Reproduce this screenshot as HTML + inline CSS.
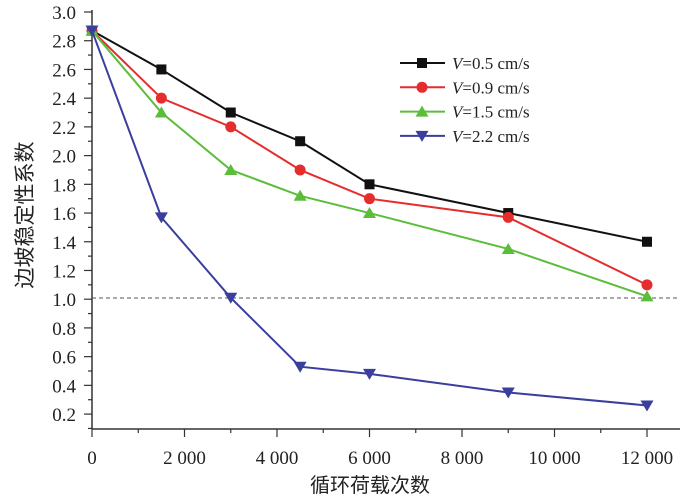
<!DOCTYPE html><html><head><style>body{margin:0;background:#fff}</style></head><body>
<svg width="700" height="499" xmlns="http://www.w3.org/2000/svg" font-family="'Liberation Serif','Noto Serif CJK SC',serif">
<g id="ax" stroke="#333" stroke-width="1.5">
<line x1="92" y1="10" x2="92" y2="429"/><line x1="92" y1="429" x2="680" y2="429"/>
</g>
<g stroke="#333" stroke-width="1.2" id="t"></g>
<g font-size="19" fill="#222" text-anchor="end" id="yl"></g>
<g font-size="19" fill="#222" text-anchor="middle" id="xl"></g>
<line x1="92" y1="298" x2="680" y2="298" stroke="#555" stroke-dasharray="4,3" stroke-width="1"/>
<g id="s"></g>
<text x="370" y="492" font-size="20" text-anchor="middle" font-family="'Liberation Sans','Noto Sans CJK SC',sans-serif" fill="#222">循环荷载次数</text>
<text transform="translate(32,215) rotate(-90)" font-size="21" text-anchor="middle" font-family="'Liberation Sans','Noto Sans CJK SC',sans-serif" fill="#222">边坡稳定性系数</text>
<g font-size="17" fill="#222" id="lg"></g>
</svg>
<script>
const ns="http://www.w3.org/2000/svg";
function el(p,n,a,t){const e=document.createElementNS(ns,n);for(const k in a)e.setAttribute(k,a[k]);if(t!=null)e.textContent=t;document.getElementById(p).appendChild(e);return e;}
const X=v=>92+v*0.04625, Y=v=>12+(3-v)*143.6;
for(let i=1;i<=30;i++){const v=i/10,y=Y(v);el('t','line',{x1:i%2==0?84:88,x2:92,y1:y,y2:y});if(i%2==0)el('yl','text',{x:76,y:y+7},v.toFixed(1));}
for(let i=0;i<=12;i++){const x=X(i*1000);el('t','line',{x1:x,x2:x,y1:429,y2:i%2==0?437:433});if(i%2==0)el('xl','text',{x:x,y:464},i==0?'0':(i*1000).toLocaleString('en').replace(',',' '));}
const xs=[0,1500,3000,4500,6000,9000,12000];
const S=[["#111","sq",[2.87,2.6,2.3,2.1,1.8,1.6,1.4],"0.5"],["#e52d2d","ci",[2.87,2.4,2.2,1.9,1.7,1.57,1.1],"0.9"],["#5cbd3a","tu",[2.87,2.3,1.9,1.72,1.6,1.35,1.02],"1.5"],["#3a3f9e","td",[2.87,1.57,1.01,0.53,0.48,0.35,0.26],"2.2"]];
function mk(g,c,m,x,y){if(m=="sq")el(g,'rect',{x:x-5,y:y-5,width:10,height:10,fill:c});else if(m=="ci")el(g,'circle',{cx:x,cy:y,r:5.5,fill:c});else if(m=="tu")el(g,'polygon',{points:`${x},${y-6} ${x-6.5},${y+5} ${x+6.5},${y+5}`,fill:c});else el(g,'polygon',{points:`${x},${y+6} ${x-6.5},${y-5} ${x+6.5},${y-5}`,fill:c});}
S.forEach((s,k)=>{el('s','polyline',{points:xs.map((x,i)=>X(x)+','+Y(s[2][i])).join(' '),fill:'none',stroke:s[0],'stroke-width':2});xs.forEach((x,i)=>mk('s',s[0],s[1],X(x),Y(s[2][i])));
const ly=63+k*24.3;el('lg','line',{x1:400,x2:445,y1:ly,y2:ly,stroke:s[0],'stroke-width':2});mk('lg',s[0],s[1],422,ly);
const t=el('lg','text',{x:452,y:ly+6});const i=document.createElementNS(ns,'tspan');i.setAttribute('font-style','italic');i.textContent='V';t.appendChild(i);t.appendChild(document.createTextNode('='+s[3]+' cm/s'));});
</script></body></html>
